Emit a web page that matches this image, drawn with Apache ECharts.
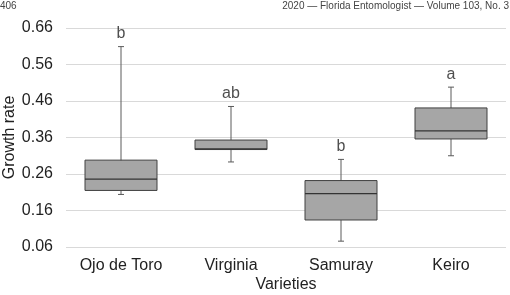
<!DOCTYPE html>
<html>
<head>
<meta charset="utf-8">
<script src="https://cdn.jsdelivr.net/npm/echarts@6/dist/echarts.min.js"></script>
<style>
    html, body { margin: 0; padding: 0; background: #fff; }
    #chart { width: 510px; height: 295px; }
</style>
</head>
<body>
<div id="chart"></div>
<script type="text/javascript">
    // varieties and the five-number summaries
    var varieties = ['Ojo de Toro', 'Virginia', 'Samuray', 'Keiro'];
    var lowWhisker = [0.204, 0.293, 0.076, 0.310];
    var q1 = [0.215, 0.327, 0.134, 0.356];
    var medians = [0.246, 0.329, 0.206, 0.378];
    var q3 = [0.298, 0.353, 0.242, 0.441];
    var highWhisker = [0.609, 0.445, 0.300, 0.498];
    var letters = ['b', 'ab', 'b', 'a'];

    var boxData = [];
    var letterData = [];
    for (var i = 0; i < varieties.length; i++) {
        boxData.push([i, lowWhisker[i], q1[i], medians[i], q3[i], highWhisker[i]]);
        letterData.push({ value: [i, highWhisker[i]], label: { formatter: letters[i] } });
    }

    // box with short whisker caps, like the original figure
    function renderBox(params, api) {
        var x = api.value(0);
        var low = api.coord([x, api.value(1)]);
        var lo = api.coord([x, api.value(2)]);
        var med = api.coord([x, api.value(3)]);
        var hi = api.coord([x, api.value(4)]);
        var high = api.coord([x, api.value(5)]);
        var cx = low[0];
        var half = 36, cap = 3;
        var line = { stroke: '#5a5a5a', lineWidth: 1 };
        return {
            type: 'group',
            children: [
                { type: 'line', shape: { x1: cx, y1: high[1], x2: cx, y2: low[1] }, style: line },
                { type: 'line', shape: { x1: cx - cap, y1: high[1], x2: cx + cap, y2: high[1] }, style: line },
                { type: 'line', shape: { x1: cx - cap, y1: low[1], x2: cx + cap, y2: low[1] }, style: line },
                {
                    type: 'rect',
                    shape: { x: cx - half, y: hi[1], width: half * 2, height: lo[1] - hi[1] },
                    style: { fill: '#a6a6a6', stroke: '#404040', lineWidth: 1 }
                },
                { type: 'line', shape: { x1: cx - half, y1: med[1], x2: cx + half, y2: med[1] }, style: { stroke: '#333', lineWidth: 1.2 } }
            ]
        };
    }

    var font = 'Liberation Sans, Arial, sans-serif';
    var chart = echarts.init(document.getElementById('chart'));
    chart.setOption({
        animation: false,
        textStyle: { fontFamily: font },
        graphic: [
            { type: 'text', left: 0, top: 1, style: { text: '406', fontSize: 10, fill: '#444', fontFamily: font } },
            { type: 'text', right: 1, top: 1, style: { text: '2020 — Florida Entomologist — Volume 103, No. 3', fontSize: 10, fill: '#444', fontFamily: font } }
        ],
        grid: { left: 66, right: 4, top: 28, bottom: 48, containLabel: false, outerBoundsMode: 'none' },
        xAxis: {
            type: 'category',
            data: varieties,
            name: 'Varieties',
            nameLocation: 'middle',
            nameGap: 30,
            nameMoveOverlap: false,
            nameTextStyle: { fontSize: 16, color: '#222' },
            axisLine: { show: false },
            axisTick: { show: false },
            axisLabel: { interval: 0, fontSize: 16, color: '#222', margin: 11 }
        },
        yAxis: {
            type: 'value',
            min: 0.06,
            max: 0.66,
            interval: 0.1,
            name: 'Growth rate',
            nameLocation: 'middle',
            nameGap: 48,
            nameMoveOverlap: false,
            nameRotate: 90,
            nameTextStyle: { fontSize: 16, color: '#222' },
            axisLine: { show: false },
            axisTick: { show: false },
            axisLabel: {
                fontSize: 16,
                color: '#222',
                margin: 13,
                formatter: function (v) { return v.toFixed(2); }
            },
            splitLine: { lineStyle: { color: '#d9d9d9', width: 1 } }
        },
        series: [
            {
                type: 'custom',
                renderItem: renderBox,
                data: boxData,
                encode: { x: 0, y: [1, 2, 3, 4, 5] }
            },
            {
                type: 'scatter',
                data: letterData,
                symbolSize: 0,
                silent: true,
                label: {
                    show: true,
                    position: 'top',
                    distance: 5,
                    fontSize: 16,
                    color: '#222'
                }
            }
        ]
    });
</script>
</body>
</html>
